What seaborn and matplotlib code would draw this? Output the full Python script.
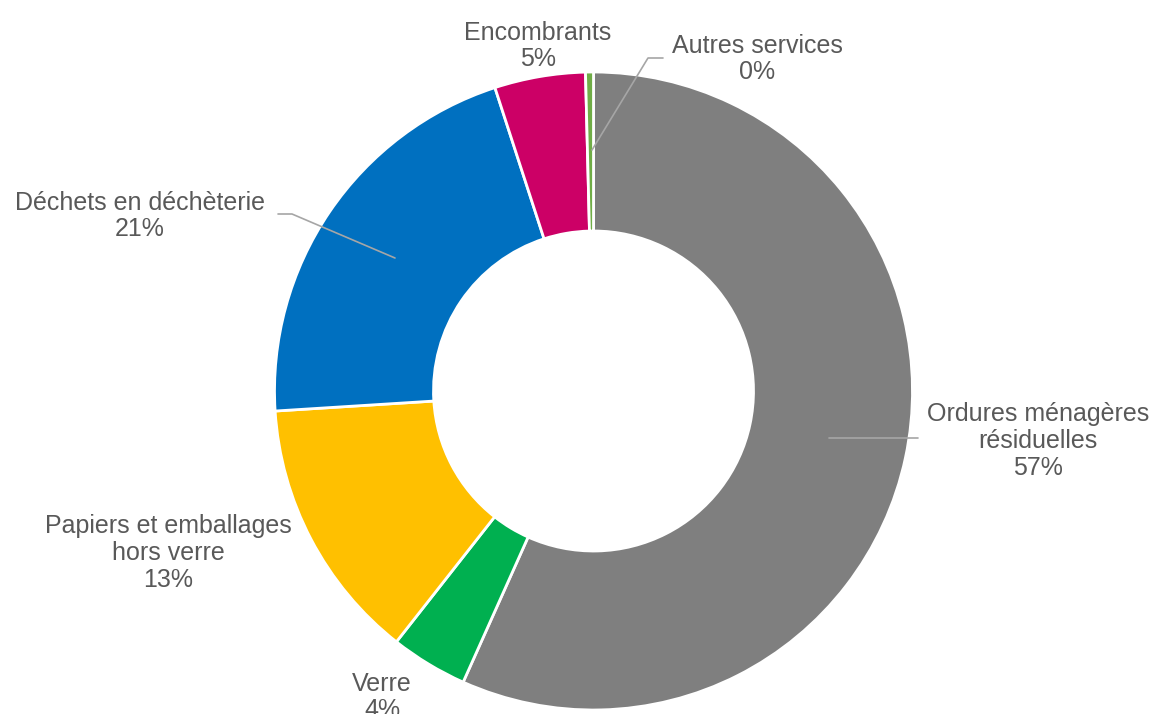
import matplotlib
matplotlib.use("Agg")
import matplotlib.pyplot as plt
import seaborn as sns

# data (percent of total)
categories = ["Ordures ménagères\nrésiduelles", "Verre", "Papiers et emballages\nhors verre",
              "Déchets en déchèterie", "Encombrants", "Autres services"]
values = [56.7, 3.9, 13.4, 21.0, 4.6, 0.4]
colors = ["#7F7F7F", "#00B050", "#FFC000", "#0070C0", "#CC0066", "#70AD47"]

# label placement (pixel coords, y from top) and leader lines
label_pos = [(1038, 441), (382, 697), (168, 553), (140, 216), (538, 46), (757, 59)]
leaders = {
    0: [(829, 438), (918, 438)],
    3: [(278, 214), (292, 214), (395, 258)],
    5: [(592, 150), (648, 58), (663, 58)],
}

W, H = 1158, 714
sns.set_theme(style="white")
plt.rcParams['font.family'] = ['Liberation Sans', 'DejaVu Sans']

fig = plt.figure(figsize=(W / 100, H / 100), dpi=100)
ax = fig.add_axes([0, 0, 1, 1])
ax.set_xlim(0, W)
ax.set_ylim(0, H)
ax.set_aspect("equal")
ax.axis("off")

cx, cy, r = 593.5, H - 391, 319
ax.pie(values, colors=colors, startangle=90, counterclock=False,
       center=(cx, cy), radius=r, frame=True,
       wedgeprops=dict(width=159, edgecolor="white", linewidth=2))
ax.set_xlim(0, W)
ax.set_ylim(0, H)
ax.axis("off")

for i, pts in leaders.items():
    xs = [p[0] for p in pts]
    ys = [H - p[1] for p in pts]
    ax.plot(xs, ys, color="#A6A6A6", lw=1.2, zorder=5)

for name, v, (x, y) in zip(categories, values, label_pos):
    ax.text(x, H - y, f"{name}\n{round(v)}%", ha="center", va="center",
            fontsize=18, color="#595959", linespacing=1.15)

fig.savefig("out.png", dpi=100)
